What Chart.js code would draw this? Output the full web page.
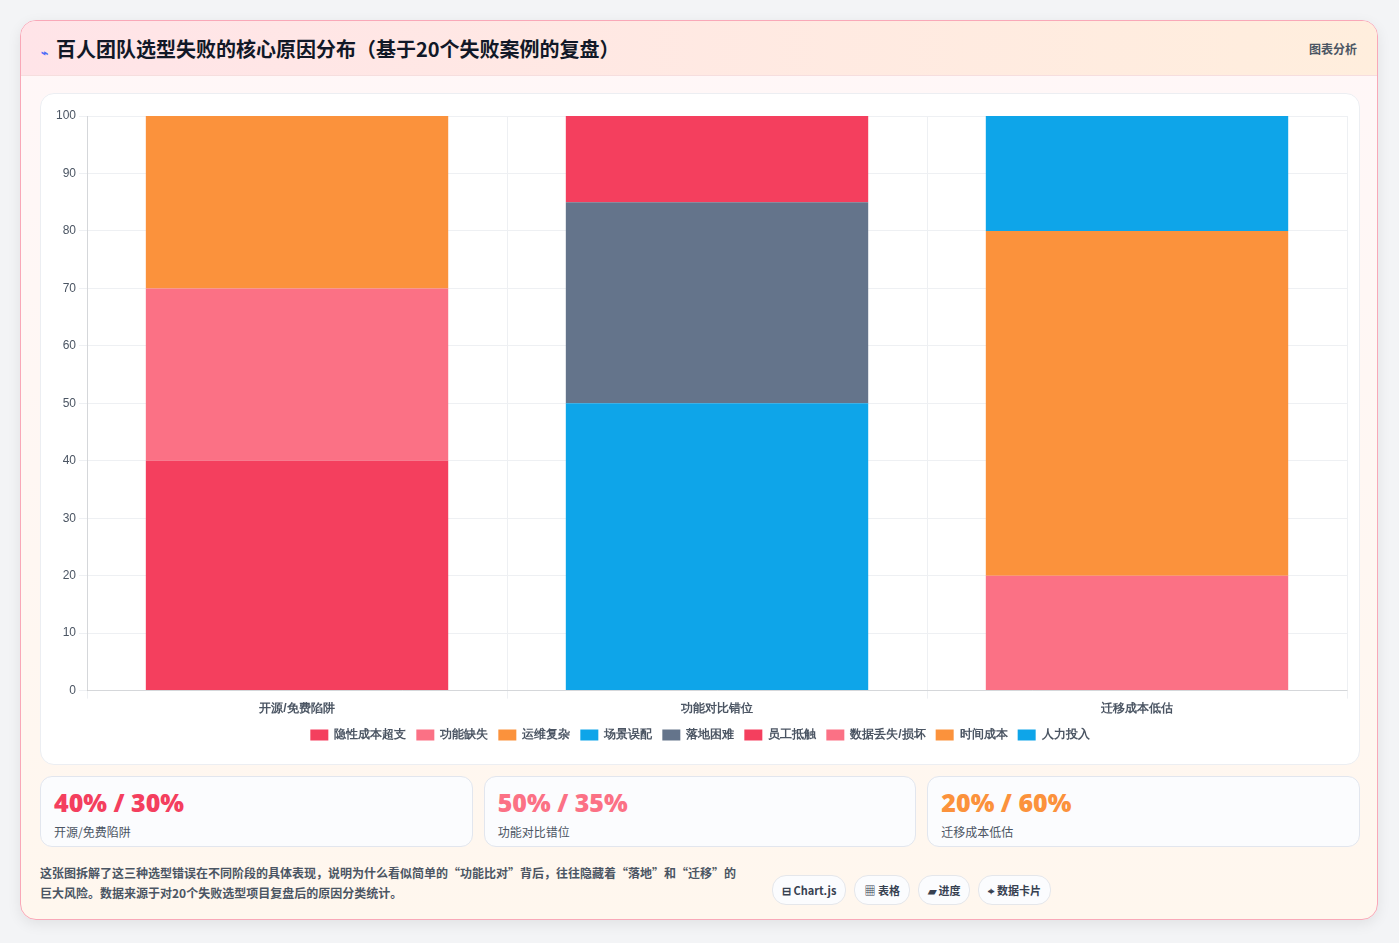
<!DOCTYPE html>
<html><head><meta charset="utf-8">
<script src="https://cdn.jsdelivr.net/npm/chart.js@4"></script>
<style>
body{margin:0;background:#f3f4f6;font-family:"Noto Sans CJK SC","Noto Sans",sans-serif;}
.card{position:absolute;left:20px;top:20px;width:1356px;height:898px;border:1px solid #f9a8b8;border-radius:16px;background:linear-gradient(180deg,#fff7f8,#fff7ee);overflow:hidden;box-shadow:0 4px 14px rgba(0,0,0,.08)}
.head{height:54px;background:linear-gradient(90deg,#ffe4e8,#ffeedd);border-bottom:1px solid #f6dede;display:flex;align-items:center;justify-content:space-between;padding:0 20px}
.head h1{margin:0;font-size:20px;font-weight:700;color:#111827}
.head h1 span{color:#4f6ef7;font-size:12px;margin-right:8px}
.head .r{font-size:12px;color:#4b5563;font-weight:600}
.box{position:absolute;left:19px;top:72px;width:1318px;height:670px;background:#fff;border:1px solid #eceef2;border-radius:14px}
.kpis{position:absolute;left:19px;top:755px;width:1320px;display:flex;gap:11px}
.k{flex:1;height:71px;background:#fbfcfe;border:1px solid #e2e6ee;border-radius:12px;padding:0 13px;box-sizing:border-box}
.k b{display:block;font-family:"Open Sans",sans-serif;font-size:25px;font-weight:800;margin-top:9px;line-height:32px}
.k i{font-style:normal;font-size:12px;color:#4b5563}
.foot{position:absolute;left:19px;top:842px;width:730px;font-size:12px;color:#4b5563;line-height:20px;font-weight:600}
.tags{position:absolute;left:751px;top:854px;display:flex;gap:8px}
.tags span{font-size:11px;font-weight:700;color:#374151;background:#fbfcfe;border:1px solid #e5e7eb;border-radius:14px;padding:6px 9px}
</style></head><body>
<div class="card">
<div class="head"><h1><span>⌁</span>百人团队选型失败的核心原因分布（基于20个失败案例的复盘）</h1><div class="r">图表分析</div></div>
<div class="box"><canvas id="c"></canvas></div>
<div class="kpis">
<div class="k"><b style="color:#f43f5e">40% / 30%</b><i>开源/免费陷阱</i></div>
<div class="k"><b style="color:#fb7185">50% / 35%</b><i>功能对比错位</i></div>
<div class="k"><b style="color:#fb923c">20% / 60%</b><i>迁移成本低估</i></div>
</div>
<div class="foot">这张图拆解了这三种选型错误在不同阶段的具体表现，说明为什么看似简单的“功能比对”背后，往往隐藏着“落地”和“迁移”的<br>巨大风险。数据来源于对20个失败选型项目复盘后的原因分类统计。</div>
<div class="tags"><span>⊟ Chart.js</span><span>▦ 表格</span><span>▰ 进度</span><span>⌖ 数据卡片</span></div>
</div>
<script>
const categories=["开源/免费陷阱","功能对比错位","迁移成本低估"];
const seriesNames=["隐性成本超支","功能缺失","运维复杂","场景误配","落地困难","员工抵触","数据丢失/损坏","时间成本","人力投入"];
const seriesCat=[0,0,0,1,1,1,2,2,2];
const seriesValues=[40,30,30,50,35,15,20,60,20];
const colors=["#f43f5e","#fb7185","#fb923c","#0ea5e9","#64748b","#f43f5e","#fb7185","#fb923c","#0ea5e9"];
const yTicks=[0,10,20,30,40,50,60,70,80,90,100];

const c=document.getElementById("c");
c.style.width="1318px";c.style.height="670px";
new Chart(c,{
type:"bar",
data:{labels:categories,datasets:seriesNames.map((n,i)=>({
label:n,
data:categories.map((_,j)=>j==seriesCat[i]?seriesValues[i]:null),
backgroundColor:colors[i],
barPercentage:0.9,categoryPercentage:0.8
}))},
options:{responsive:false,animation:false,
layout:{padding:{left:12,right:12,top:22,bottom:13}},
scales:{
x:{stacked:true,grid:{color:"#eef0f3"},ticks:{color:"#4b5563",font:{size:12,weight:"600"}}},
y:{stacked:true,min:0,max:100,afterBuildTicks:a=>{a.ticks=yTicks.map(v=>({value:v}))},grid:{color:"#eef0f3"},ticks:{color:"#4b5563",font:{size:12}}}
},
plugins:{legend:{position:"bottom",labels:{boxWidth:18,boxHeight:11,color:"#4b5563",font:{size:12,weight:"600"},padding:10}},tooltip:{enabled:false}}
}});
</script>
</body></html>
